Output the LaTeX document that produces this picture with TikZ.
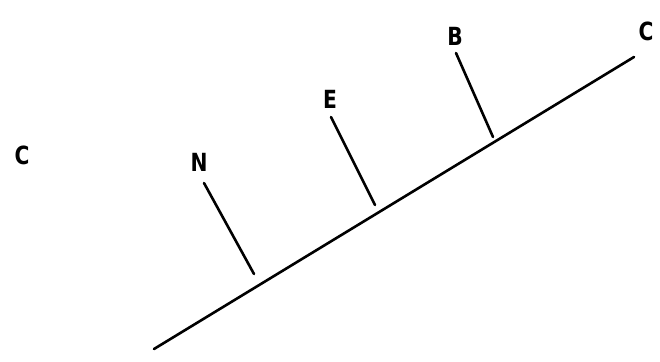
\documentclass[tikz,border=0pt]{standalone}
\usepackage{fontspec}
\setmainfont{DejaVu Sans Condensed}
\begin{document}
\begin{tikzpicture}[x=1pt,y=-1pt,
  lab/.style={font=\fontsize{25}{25}\selectfont\bfseries, inner sep=0pt, xscale=0.9},
  ln/.style={line width=2.6pt, line cap=round}]
\useasboundingbox (0,0) rectangle (660,361);
\coordinate (a) at (154,349);
\coordinate (z) at (634,57);
\coordinate (nb) at (254,274);
\coordinate (nt) at (204,183);
\coordinate (eb) at (375,205);
\coordinate (et) at (331,117);
\coordinate (bb) at (493,137);
\coordinate (bt) at (456,53);
\draw[ln] (a) -- (z);
\draw[ln] (nb) -- (nt);
\draw[ln] (eb) -- (et);
\draw[ln] (bb) -- (bt);
\node[lab] (cl) at (22,155) {C};
\node[lab] (n) at (199,162) {N};
\node[lab] (e) at (330,99) {E};
\node[lab] (b) at (455,36) {B};
\node[lab] (cr) at (646,31) {C};
\end{tikzpicture}
\end{document}
